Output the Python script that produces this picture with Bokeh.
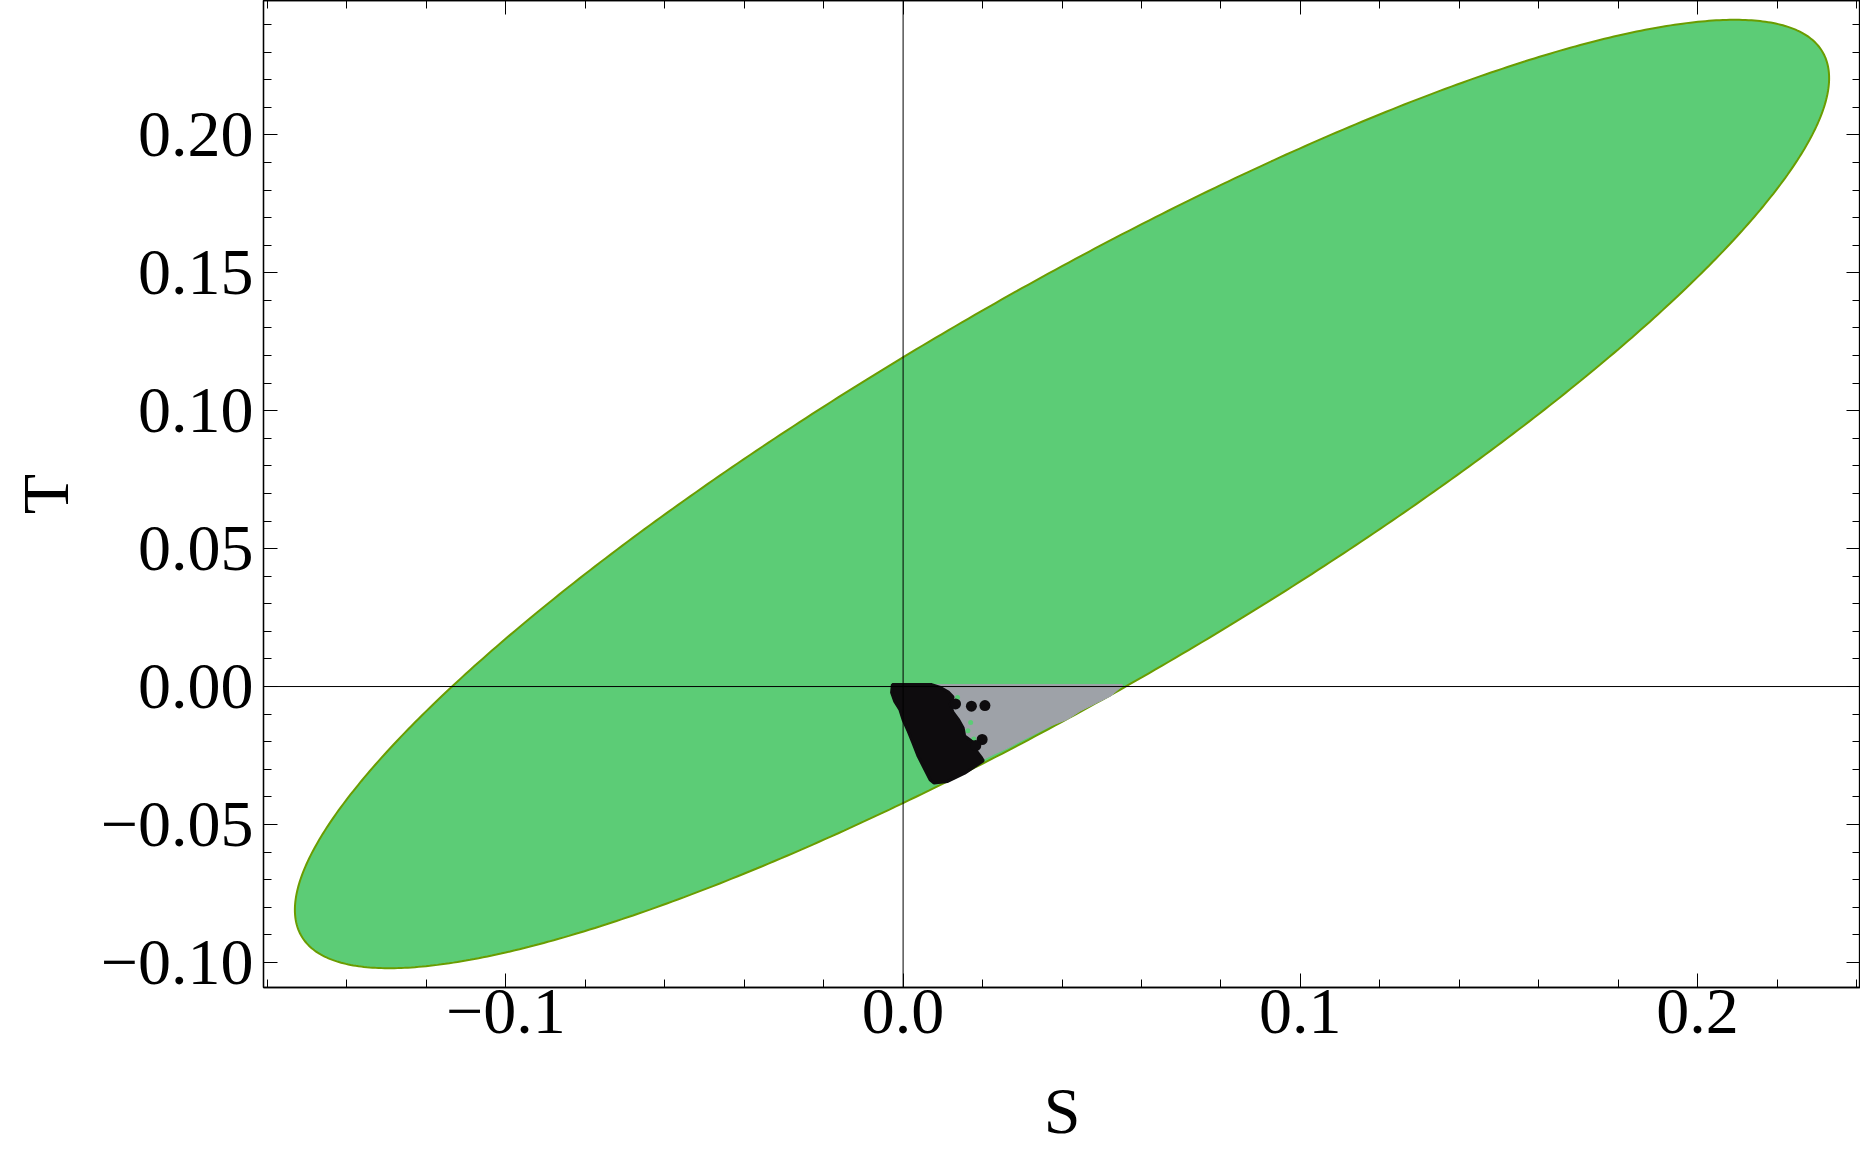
import numpy as np
from bokeh.plotting import figure
from bokeh.models import LinearAxis, FixedTicker, Span, Range1d, CustomLabelingPolicy
from bokeh.embed import file_html
from bokeh.resources import INLINE

# ---- data ----
# 1-sigma style ellipse in the S-T plane
ellipse_center_S = 0.0400
ellipse_center_T = 0.0698
ellipse_half_S = 0.1931
ellipse_half_T = 0.1719
ellipse_corr = 0.877

# grey region (allowed points)
gray_S = [0.0069, 0.0552, 0.0552, 0.0523, 0.0489, 0.0447, 0.0414, 0.0372,
          0.0330, 0.0296, 0.0263, 0.0229, 0.0195, 0.0095]
gray_T = [0.0007, 0.0007, 0.0003, -0.0034, -0.0058, -0.0088, -0.0119, -0.0142,
          -0.0173, -0.0197, -0.0223, -0.0245, -0.0269, -0.0123]

# black region (model points)
black_S = [-0.0027, 0.0072, 0.0092, 0.0114, 0.0126, 0.0118, 0.0126, 0.0139,
           0.0151, 0.0155, 0.0172, 0.0185, 0.0181, 0.0197, 0.0202, 0.0155,
           0.0112, 0.0078, 0.0068, 0.0051, 0.0038, 0.0025, 0.0013, 0.0000,
           -0.0008, -0.0021, -0.0029]
black_T = [0.0007, 0.0007, -0.0002, -0.0020, -0.0038, -0.0064, -0.0094, -0.0119,
           -0.0149, -0.0179, -0.0197, -0.0209, -0.0227, -0.0257, -0.0269, -0.0314,
           -0.0344, -0.0350, -0.0338, -0.0290, -0.0253, -0.0205, -0.0163, -0.0121,
           -0.0084, -0.0054, -0.0022]

# isolated black points
dots_S = [0.0132, 0.0172, 0.0206, 0.0199, 0.0183]
dots_T = [-0.0063, -0.0071, -0.0069, -0.0192, -0.0214]

# small green gaps inside the grey region
gaps_S = [0.0137, 0.0170, 0.0178, 0.0163]
gaps_T = [-0.0040, -0.0130, -0.0190, -0.0160]

x_ticks = [-0.1, 0.0, 0.1, 0.2]
x_tick_labels = ["\u22120.1", "0.0", "0.1", "0.2"]
y_ticks = [-0.10, -0.05, 0.0, 0.05, 0.10, 0.15, 0.20]
y_tick_labels = ["\u22120.10", "\u22120.05", "0.00", "0.05", "0.10", "0.15", "0.20"]

x_label = "S"
y_label = "T"

# ---- build ----
theta = np.linspace(0, 2 * np.pi, 721)
ell_S = ellipse_center_S + ellipse_half_S * np.cos(theta)
ell_T = ellipse_center_T + ellipse_half_T * (ellipse_corr * np.cos(theta)
                                            + np.sqrt(1 - ellipse_corr ** 2) * np.sin(theta))

FONT = "Liberation Serif"
FS = "66px"
X0, X1 = -0.161, 0.241
Y0, Y1 = -0.1091, 0.2487

p = figure(width=1860, height=1153,
           x_range=Range1d(X0, X1), y_range=Range1d(Y0, Y1),
           output_backend="svg", toolbar_location=None,
           min_border_left=263, min_border_right=0, min_border_top=0,
           min_border_bottom=166)
p.grid.visible = False
p.outline_line_color = "black"
p.outline_line_width = 1.3
p.background_fill_color = "white"
p.border_fill_color = "white"

p.patch(ell_S, ell_T, fill_color="#5CCC76", line_color="#6A9C00", line_width=2)
p.patch(gray_S, gray_T, fill_color="#9EA2A8", line_color="#9EA2A8", line_width=1)
p.scatter(gaps_S, gaps_T, size=5, fill_color="#5CCC76", line_color=None)
p.patch(black_S, black_T, fill_color="#0E0C0E", line_color="#0E0C0E", line_width=3)
p.scatter(dots_S, dots_T, size=11, fill_color="#0E0C0E", line_color=None)

p.add_layout(Span(location=0, dimension="width", line_color="black", line_width=1))
p.add_layout(Span(location=0, dimension="height", line_color="black", line_width=1))

x_minor = [round(v, 3) for v in np.arange(-0.16, 0.2401, 0.02)]
y_minor = [round(v, 3) for v in np.arange(-0.10, 0.2401, 0.01)]

hide_all = CustomLabelingPolicy(code="""
const keep = [];
for (const i of indices) { keep.push(i) }
for (const i of keep) { indices.unset(i) }
return indices
""")

def style(ax, ticks, minor, labels, show):
    ax.ticker = FixedTicker(ticks=ticks, minor_ticks=minor)
    ax.major_tick_in = 14
    ax.major_tick_out = 0
    ax.minor_tick_in = 8
    ax.minor_tick_out = 0
    ax.major_tick_line_color = "black"
    ax.minor_tick_line_color = "black"
    ax.axis_line_color = "black"
    ax.axis_line_width = 1.3
    ax.major_label_text_font = FONT
    ax.major_label_text_color = "black"
    ax.axis_label_text_font = FONT
    ax.axis_label_text_font_style = "normal"
    ax.axis_label_text_font_size = FS
    ax.axis_label_text_color = "black"
    if show:
        ax.major_label_overrides = {t: l for t, l in zip(ticks, labels)}
        ax.major_label_text_font_size = FS
    else:
        ax.major_label_policy = hide_all
        ax.major_label_text_font_size = "0px"
        ax.major_label_standoff = 0
        ax.axis_label_standoff = 0

xa = p.xaxis[0]
ya = p.yaxis[0]
style(xa, x_ticks, x_minor, x_tick_labels, True)
style(ya, y_ticks, y_minor, y_tick_labels, True)
xa.axis_label = x_label
ya.axis_label = y_label
xa.major_label_standoff = 2
xa.axis_label_standoff = 38
ya.major_label_standoff = 10
ya.axis_label_standoff = 16

xt = LinearAxis()
style(xt, x_ticks, x_minor, x_tick_labels, False)
p.add_layout(xt, "above")
yr = LinearAxis()
style(yr, y_ticks, y_minor, y_tick_labels, False)
p.add_layout(yr, "right")

open("out.html", "w").write(file_html(p, INLINE))
